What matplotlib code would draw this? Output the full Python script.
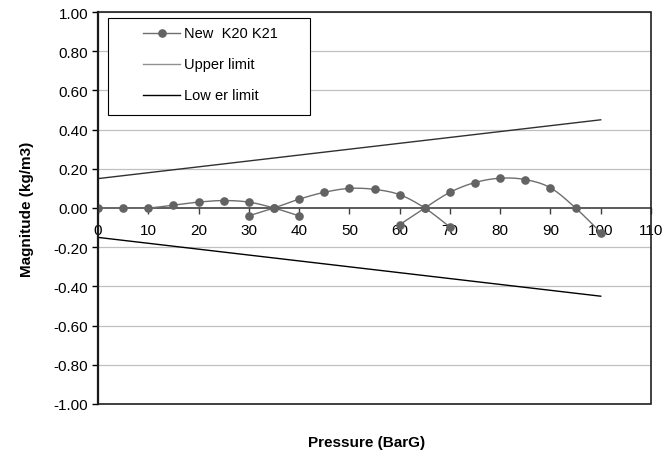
import numpy as np
import matplotlib
matplotlib.use("Agg")
import matplotlib.pyplot as plt
from matplotlib.patches import Rectangle
from matplotlib.lines import Line2D

plt.rcParams['font.family'] = ['Liberation Sans', 'DejaVu Sans']

# ---- data ----
seg1_x = [0, 5, 10, 15, 20, 25, 30, 35, 40]
seg1_y = [0.0, 0.0, 0.0, 0.015, 0.03, 0.038, 0.03, 0.0, -0.04]
seg2_x = [30, 35, 40, 45, 50, 55, 60, 65, 70]
seg2_y = [-0.04, 0.0, 0.045, 0.08, 0.1, 0.095, 0.068, 0.0, -0.097]
seg3_x = [60, 65, 70, 75, 80, 85, 90, 95, 100]
seg3_y = [-0.085, 0.0, 0.08, 0.13, 0.152, 0.145, 0.103, 0.0, -0.125]

limit_x = [0, 5, 10, 15, 20, 25, 30, 35, 40, 45, 50, 55, 60, 65, 70, 75, 80, 85, 90, 95, 100]
upper = [0.15, 0.165, 0.18, 0.195, 0.21, 0.225, 0.24, 0.255, 0.27, 0.285, 0.30,
         0.315, 0.33, 0.345, 0.36, 0.375, 0.39, 0.405, 0.42, 0.435, 0.45]
lower = [-0.15, -0.165, -0.18, -0.195, -0.21, -0.225, -0.24, -0.255, -0.27, -0.285, -0.30,
         -0.315, -0.33, -0.345, -0.36, -0.375, -0.39, -0.405, -0.42, -0.435, -0.45]

series_labels = ['New  K20 K21', 'Upper limit', 'Low er limit']
x_ticks = [0, 10, 20, 30, 40, 50, 60, 70, 80, 90, 100, 110]
y_ticks = [-1.0, -0.8, -0.6, -0.4, -0.2, 0.0, 0.2, 0.4, 0.6, 0.8, 1.0]

W, H = 665, 460


def smooth(xs, ys, n=20):
    p = np.column_stack([xs, ys]).astype(float)
    pts = np.vstack([p[0], p, p[-1]])
    out = []
    t = np.linspace(0, 1, n)[:, None]
    for i in range(1, len(pts) - 2):
        p0, p1, p2, p3 = pts[i - 1], pts[i], pts[i + 1], pts[i + 2]
        c1 = p1 + (p2 - p0) / 6.0
        c2 = p2 - (p3 - p1) / 6.0
        b = ((1 - t) ** 3) * p1 + 3 * ((1 - t) ** 2) * t * c1 + 3 * (1 - t) * t ** 2 * c2 + t ** 3 * p2
        out.append(b)
    out = np.vstack(out)
    return out[:, 0], out[:, 1]


def fx(px):
    return px / W


def fy(py):
    return 1 - py / H


fig = plt.figure(figsize=(6.65, 4.60), dpi=100)
ax = fig.add_axes([fx(98), fy(405), (651 - 98) / W, (405 - 13) / H])

ax.set_xlim(0, 110)
ax.set_ylim(-1, 1)

for yv in y_ticks:
    if yv != 0.0:
        ax.axhline(yv, color='#c0c0c0', lw=0.9, zorder=0)

ser_color = '#6e6e6e'
mk_color = '#636363'
upper_color = '#303030'
lower_color = '#000000'
for xs, ys in [(seg1_x, seg1_y), (seg2_x, seg2_y), (seg3_x, seg3_y)]:
    sx, sy = smooth(xs, ys)
    ax.plot(sx, sy, color=ser_color, lw=1.0, zorder=3)
    ax.plot(xs, ys, 'o', color=mk_color, ms=5.2, zorder=4)

ax.plot(limit_x, upper, color=upper_color, lw=1.0, zorder=2)
ax.plot(limit_x, lower, color=lower_color, lw=1.0, zorder=2)

# axes styling
ax.spines['bottom'].set_position(('data', 0))
ax.spines['bottom'].set_color('#404040')
ax.spines['bottom'].set_linewidth(1.2)
ax.spines['top'].set_visible(False)
ax.spines['right'].set_visible(False)
ax.spines['left'].set_linewidth(1.6)
ax.spines['left'].set_color('#000000')
ax.add_patch(Rectangle((0, 0), 1, 1, transform=ax.transAxes, fill=False,
                       edgecolor='#202020', lw=1.2, clip_on=False, zorder=5))

ax.set_xticks(x_ticks)
ax.set_xticklabels([str(v) for v in x_ticks])
ax.set_yticks(y_ticks)
ax.set_yticklabels(['%.2f' % v for v in y_ticks])
ax.tick_params(axis='x', direction='out', length=4, width=1, pad=7, labelsize=11, color='#404040')
ax.tick_params(axis='y', direction='out', length=4, width=1, pad=3, labelsize=11)

ax.set_ylabel('Magnitude (kg/m3)', fontsize=11, fontweight='bold', labelpad=14)
fig.text(fx(367), fy(443), 'Pressure (BarG)', fontsize=11, fontweight='bold',
         ha='center', va='center')

# legend box (drawn manually to match reference geometry)
fig.patches.append(Rectangle((fx(108), fy(116)), (310 - 108) / W, (116 - 19) / H,
                             transform=fig.transFigure, facecolor='white',
                             edgecolor='black', lw=0.8, zorder=10))
row_y = [34, 65, 96]
styles = [
    dict(color=ser_color, marker='o', ms=5.2, markerfacecolor=mk_color, markeredgecolor=mk_color),
    dict(color='#909090'),
    dict(color=lower_color),
]
for yy, lab, st in zip(row_y, series_labels, styles):
    line_st = {k: v for k, v in st.items() if k == 'color'}
    fig.lines.append(Line2D([fx(143), fx(180)], [fy(yy), fy(yy)], transform=fig.transFigure,
                            lw=1.0, zorder=11, **line_st))
    if 'marker' in st:
        fig.lines.append(Line2D([fx(161.5)], [fy(yy)], transform=fig.transFigure, lw=0,
                                zorder=12, **st))
    fig.text(fx(184), fy(yy), lab, fontsize=10.5, ha='left', va='center', zorder=12)

fig.savefig('out.png', dpi=100)
